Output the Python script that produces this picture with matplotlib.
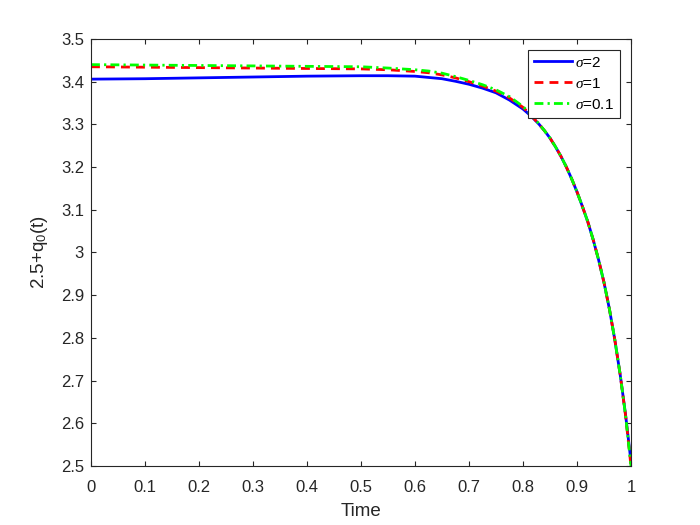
import matplotlib
matplotlib.use("Agg")
import matplotlib.pyplot as plt
from matplotlib.ticker import FuncFormatter

# values
time = [0, 0.1, 0.2, 0.3, 0.4, 0.5, 0.55, 0.6, 0.625, 0.65, 0.675, 0.7, 0.725,
        0.75, 0.775, 0.8, 0.81, 0.82, 0.83, 0.84, 0.85, 0.86, 0.87, 0.88, 0.89,
        0.9, 0.91, 0.92, 0.93, 0.94, 0.95, 0.96, 0.97, 0.98, 0.99, 1.0]
q_sigma2 = [3.406, 3.407, 3.409, 3.411, 3.413, 3.414, 3.414, 3.413, 3.410,
            3.407, 3.401, 3.394, 3.385, 3.374, 3.357, 3.336, 3.325, 3.313,
            3.300, 3.285, 3.268, 3.248, 3.226, 3.201, 3.173, 3.142, 3.108,
            3.072, 3.030, 2.983, 2.930, 2.868, 2.796, 2.714, 2.620, 2.510]
q_sigma1 = [3.435, 3.434, 3.433, 3.432, 3.431, 3.430, 3.428, 3.424, 3.421,
            3.416, 3.409, 3.400, 3.390, 3.378, 3.362, 3.340, 3.328, 3.314,
            3.300, 3.285, 3.268, 3.248, 3.226, 3.201, 3.173, 3.142, 3.108,
            3.072, 3.030, 2.983, 2.930, 2.868, 2.796, 2.714, 2.618, 2.500]
q_sigma01 = [3.440, 3.439, 3.438, 3.437, 3.436, 3.435, 3.432, 3.428, 3.425,
             3.420, 3.412, 3.403, 3.393, 3.381, 3.365, 3.342, 3.329, 3.315,
             3.301, 3.285, 3.268, 3.248, 3.226, 3.201, 3.173, 3.142, 3.108,
             3.072, 3.030, 2.983, 2.930, 2.868, 2.796, 2.714, 2.618, 2.500]
labels = [r"$\sigma$=2", r"$\sigma$=1", r"$\sigma$=0.1"]

plt.rcParams['font.family'] = ['Liberation Sans', 'DejaVu Sans']
plt.rcParams['mathtext.fontset'] = 'custom'
plt.rcParams['mathtext.rm'] = 'Liberation Sans'
plt.rcParams['mathtext.it'] = 'Liberation Serif:italic'
axis_color = (0.15, 0.15, 0.15)

fig = plt.figure(figsize=(7, 5.25), dpi=100)
ax = fig.add_axes([0.13, 0.1124, 0.7714, 0.8133])

ax.plot(time, q_sigma2, color=(0, 0, 1), linestyle='-', linewidth=2, label=labels[0])
ax.plot(time, q_sigma1, color=(1, 0, 0), linestyle=(0, (3.2, 2.2)), linewidth=2, label=labels[1])
ax.plot(time, q_sigma01, color=(0, 1, 0), linestyle=(0, (3.2, 1.5, 0.8, 1.5)), linewidth=2, label=labels[2])

ax.set_xlim(0, 1)
ax.set_ylim(2.5, 3.5)
ax.set_xticks([i / 10 for i in range(11)])
ax.set_yticks([2.5 + i / 10 for i in range(11)])
fmt = FuncFormatter(lambda v, p: f"{v:.1f}".rstrip('0').rstrip('.'))
ax.xaxis.set_major_formatter(fmt)
ax.yaxis.set_major_formatter(fmt)
ax.tick_params(direction='in', top=True, right=True, length=3.6, width=0.8,
               colors=axis_color, labelsize=12)
ax.tick_params(axis='x', pad=10)
ax.tick_params(axis='y', pad=5)
for spine in ax.spines.values():
    spine.set_color(axis_color)
    spine.set_linewidth(0.8)

ax.set_xlabel("Time", fontsize=13.5, color=axis_color, labelpad=6)
ax.set_ylabel("2.5+q$_0$(t)", fontsize=13.5, color=axis_color, labelpad=8)

leg = ax.legend(loc='upper right', fontsize=11, fancybox=False, framealpha=1,
                edgecolor=axis_color, handlelength=2.5, borderaxespad=0.7,
                labelspacing=0.45, handletextpad=0.2, borderpad=0.4)
leg.get_frame().set_linewidth(0.8)

fig.savefig("out.png", dpi=100)
